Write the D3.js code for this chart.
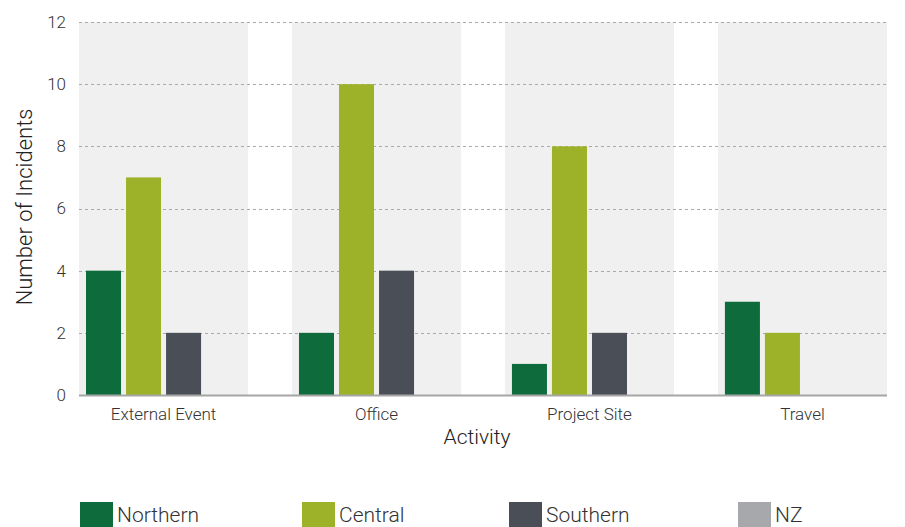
<!DOCTYPE html>
<html>
<head>
<meta charset="utf-8">
<script src="https://cdn.jsdelivr.net/npm/d3@7"></script>
<style>
  body { margin: 0; background: #fff; }
  svg { display: block; font-family: Roboto, "Liberation Sans", sans-serif; font-weight: 300; }
</style>
</head>
<body>
<div id="chart"></div>
<script>
// Chart data
const activities = ['External Event', 'Office', 'Project Site', 'Travel'];
const seriesNames = ['Northern', 'Central', 'Southern', 'NZ'];
const northern = [4, 2, 1, 3];
const central = [7, 10, 8, 2];
const southern = [2, 4, 2, 0];
const nz = [0, 0, 0, 0];
const yTicks = [0, 2, 4, 6, 8, 10, 12];
const seriesColors = ['#0e6b3b', '#9db228', '#4a4e57', '#a7a8ab'];

const seriesValues = [northern, central, southern, nz];
const rows = activities.map((a, i) => ({
  activity: a,
  values: seriesNames.map((s, j) => ({ key: s, value: seriesValues[j][i] }))
}));

const width = 905, height = 527;
const plot = { left: 79, right: 887, top: 22, bottom: 395 };

const svg = d3.select('#chart').append('svg')
  .attr('width', width)
  .attr('height', height);

// Scales
const x0 = d3.scaleBand()
  .domain(activities)
  .range([plot.left, plot.right])
  .paddingInner(0.206)
  .paddingOuter(0)
  .align(0);

const x1 = d3.scaleBand()
  .domain(seriesNames)
  .range([0, x0.bandwidth()])
  .paddingInner(0.125)
  .paddingOuter(0.175);

const y = d3.scaleLinear()
  .domain([0, 12])
  .range([plot.bottom, plot.top]);

const color = d3.scaleOrdinal().domain(seriesNames).range(seriesColors);

// Gray category bands
svg.append('g').selectAll('rect')
  .data(activities)
  .join('rect')
  .attr('x', d => x0(d))
  .attr('y', plot.top)
  .attr('width', x0.bandwidth())
  .attr('height', plot.bottom - plot.top)
  .attr('fill', '#f0f0f0');

// Gridlines
svg.append('g').selectAll('line')
  .data(yTicks.filter(t => t > 0))
  .join('line')
  .attr('x1', plot.left)
  .attr('x2', plot.right)
  .attr('y1', d => Math.round(y(d)) + 0.5)
  .attr('y2', d => Math.round(y(d)) + 0.5)
  .attr('stroke', '#a9a9a9')
  .attr('stroke-width', 1)
  .attr('stroke-dasharray', '3,3');

// Bars
const groups = svg.append('g').selectAll('g')
  .data(rows)
  .join('g')
  .attr('transform', d => `translate(${x0(d.activity)},0)`);

groups.selectAll('rect')
  .data(d => d.values.filter(v => v.value > 0))
  .join('rect')
  .attr('x', d => x1(d.key))
  .attr('y', d => y(d.value))
  .attr('width', x1.bandwidth())
  .attr('height', d => y(0) - y(d.value))
  .attr('fill', d => color(d.key));

// Baseline
svg.append('line')
  .attr('x1', plot.left)
  .attr('x2', plot.right)
  .attr('y1', plot.bottom + 0.5)
  .attr('y2', plot.bottom + 0.5)
  .attr('stroke', '#a6a6a6')
  .attr('stroke-width', 2);

// Y axis
const yAxis = d3.axisLeft(y).tickValues(yTicks).tickSize(0).tickPadding(13);
svg.append('g')
  .attr('transform', `translate(${plot.left},0)`)
  .call(yAxis)
  .call(g => g.select('.domain').remove())
  .call(g => g.selectAll('text')
    .attr('fill', '#333')
    .attr('font-size', '17px')
    .attr('font-family', 'Roboto, sans-serif'));

// X axis
const xAxis = d3.axisBottom(x0).tickSize(0).tickPadding(13);
svg.append('g')
  .attr('transform', `translate(0,${plot.bottom})`)
  .call(xAxis)
  .call(g => g.select('.domain').remove())
  .call(g => g.selectAll('text')
    .attr('fill', '#333')
    .attr('font-size', '17px')
    .attr('font-family', 'Roboto, sans-serif'));

// Axis titles
svg.append('text')
  .attr('x', 477)
  .attr('y', 444)
  .attr('text-anchor', 'middle')
  .attr('fill', '#222')
  .attr('font-size', '21px')
  .text('Activity');

svg.append('text')
  .attr('transform', 'rotate(-90)')
  .attr('x', -207)
  .attr('y', 32)
  .attr('text-anchor', 'middle')
  .attr('fill', '#222')
  .attr('font-size', '22px')
  .text('Number of Incidents');

// Legend
const legendX = [80, 302, 509, 738];
const legend = svg.append('g').selectAll('g')
  .data(seriesNames)
  .join('g')
  .attr('transform', (d, i) => `translate(${legendX[i]},502)`);

legend.append('rect')
  .attr('width', 33)
  .attr('height', 27)
  .attr('fill', d => color(d));

legend.append('text')
  .attr('x', 37)
  .attr('y', 20)
  .attr('fill', '#333')
  .attr('font-size', '21px')
  .text(d => d);
</script>
</body>
</html>
